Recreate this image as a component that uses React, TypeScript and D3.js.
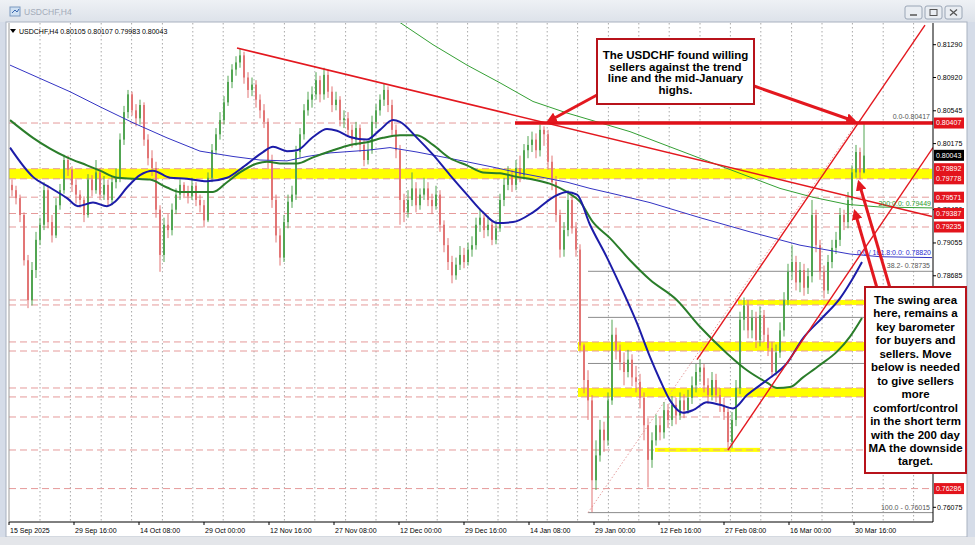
import React from "react";
import * as d3 from "d3";

const W = 975, H = 545;
const PLOT = { l: 9, r: 933, t: 23, b: 522 };

// one candle per 4 H4 bars: [open, high, low, close]
const CANDLES: [number, number, number, number][] = [
  [.7971,.7977,.7958,.7965],[.7965,.7970,.7949,.7956],[.7956,.7960,.7929,.7937],[.7937,.7940,.7880,.7886],[.7886,.7892,.7832,.7841],
  [.7841,.7884,.7835,.7875],[.7875,.7918,.7866,.7909],[.7909,.7934,.7903,.7926],[.7926,.7974,.7920,.7965],[.7965,.7970,.7922,.7929],
  [.7929,.7937,.7906,.7914],[.7914,.7956,.7911,.7948],[.7948,.7972,.7943,.7965],[.7965,.8005,.7961,.7999],[.7999,.8004,.7981,.7988],
  [.7988,.7992,.7963,.7971],[.7971,.7977,.7950,.7960],[.7960,.7965,.7945,.7954],[.7954,.7958,.7929,.7937],[.7937,.7983,.7934,.7977],
  [.7977,.7982,.7958,.7965],[.7965,.7999,.7961,.7985],[.7985,.7990,.7954,.7960],[.7960,.7981,.7954,.7971],[.7971,.7977,.7947,.7954],
  [.7954,.7981,.7948,.7974],[.7974,.7990,.7967,.7979],[.7979,.8029,.7974,.8022],[.8022,.8060,.8016,.8053],[.8053,.8078,.8046,.8073],
  [.8073,.8076,.8049,.8055],[.8055,.8062,.8037,.8046],[.8046,.8067,.8039,.8061],[.8061,.8064,.8015,.8022],[.8022,.8028,.7993,.8001],
  [.8001,.8010,.7981,.7990],[.7990,.7997,.7934,.7943],[.7943,.7948,.7873,.7892],[.7892,.7934,.7884,.7926],[.7926,.7938,.7911,.7920],
  [.7920,.7950,.7914,.7943],[.7943,.7967,.7938,.7960],[.7960,.7977,.7954,.7971],[.7971,.7974,.7956,.7963],[.7963,.7970,.7950,.7958],
  [.7958,.7979,.7954,.7970],[.7970,.7974,.7947,.7954],[.7954,.7960,.7940,.7948],[.7948,.7954,.7923,.7931],[.7931,.7985,.7929,.7979],
  [.7979,.8017,.7974,.8010],[.8010,.8035,.8005,.8028],[.8028,.8053,.8022,.8044],[.8044,.8071,.8039,.8064],[.8064,.8094,.8060,.8087],
  [.8087,.8107,.8080,.8101],[.8101,.8116,.8094,.8109],[.8109,.8125,.8103,.8117],[.8117,.8121,.8085,.8092],[.8092,.8098,.8069,.8078],
  [.8078,.8092,.8071,.8084],[.8084,.8089,.8058,.8067],[.8067,.8073,.8046,.8055],[.8055,.8062,.8035,.8042],[.8042,.8046,.7990,.7999],
  [.7999,.8005,.7945,.7954],[.7954,.7960,.7906,.7914],[.7914,.7922,.7880,.7889],[.7889,.7937,.7884,.7929],[.7929,.7960,.7922,.7952],
  [.7952,.7970,.7945,.7960],[.7960,.8015,.7954,.8008],[.8008,.8035,.8001,.8028],[.8028,.8062,.8022,.8055],[.8055,.8076,.8049,.8067],
  [.8067,.8082,.8058,.8073],[.8073,.8098,.8067,.8089],[.8089,.8094,.8064,.8073],[.8073,.8103,.8067,.8095],[.8095,.8101,.8069,.8076],
  [.8076,.8082,.8053,.8061],[.8061,.8076,.8055,.8067],[.8067,.8071,.8037,.8044],[.8044,.8055,.8035,.8046],[.8046,.8053,.8026,.8033],
  [.8033,.8039,.8013,.8022],[.8022,.8042,.8015,.8035],[.8035,.8039,.8008,.8016],[.8016,.8022,.7992,.7999],[.7999,.8019,.7994,.8010],
  [.8010,.8049,.8006,.8042],[.8042,.8062,.8035,.8055],[.8055,.8073,.8049,.8067],[.8067,.8085,.8060,.8078],[.8078,.8082,.8053,.8061],
  [.8061,.8067,.8026,.8033],[.8033,.8039,.8001,.8010],[.8010,.8016,.7926,.7954],[.7954,.7961,.7929,.7940],[.7940,.7965,.7934,.7954],
  [.7954,.7985,.7947,.7967],[.7967,.7974,.7940,.7948],[.7948,.7967,.7943,.7960],[.7960,.7979,.7954,.7967],[.7967,.7974,.7947,.7954],
  [.7954,.7961,.7938,.7947],[.7947,.7970,.7943,.7960],[.7960,.7965,.7918,.7926],[.7926,.7931,.7895,.7903],[.7903,.7911,.7875,.7884],
  [.7884,.7891,.7860,.7869],[.7869,.7889,.7864,.7881],[.7881,.7902,.7875,.7892],[.7892,.7900,.7877,.7884],[.7884,.7906,.7880,.7898],
  [.7898,.7913,.7890,.7903],[.7903,.7934,.7898,.7926],[.7926,.7943,.7918,.7934],[.7934,.7938,.7911,.7920],[.7920,.7936,.7913,.7926],
  [.7926,.7931,.7903,.7909],[.7909,.7931,.7904,.7922],[.7922,.7961,.7918,.7954],[.7954,.7979,.7947,.7971],[.7971,.7992,.7965,.7982],
  [.7982,.7988,.7963,.7971],[.7971,.7999,.7965,.7990],[.7990,.8004,.7974,.7982],[.7982,.8017,.7977,.8010],[.8010,.8026,.8001,.8016],
  [.8016,.8031,.8008,.8022],[.8022,.8029,.8001,.8010],[.8010,.8039,.8003,.8033],[.8033,.8037,.8015,.8028],[.8028,.8033,.7988,.7997],
  [.7997,.8004,.7965,.7974],[.7974,.7981,.7929,.7937],[.7937,.7943,.7889,.7898],[.7898,.7929,.7890,.7920],[.7920,.7965,.7913,.7954],
  [.7954,.7958,.7916,.7922],[.7922,.7929,.7890,.7898],[.7898,.7904,.7782,.7790],[.7790,.7792,.7736,.7751],[.7751,.7762,.7706,.7728],
  [.7728,.7734,.7602,.7638],[.7638,.7683,.7627,.7666],[.7666,.7706,.7659,.7695],[.7695,.7704,.7670,.7683],[.7683,.7737,.7677,.7728],
  [.7728,.7819,.7723,.7802],[.7802,.7810,.7774,.7785],[.7785,.7791,.7762,.7771],[.7771,.7782,.7745,.7760],[.7760,.7785,.7754,.7774],
  [.7774,.7780,.7744,.7754],[.7754,.7767,.7737,.7749],[.7749,.7758,.7719,.7731],[.7731,.7737,.7683,.7700],[.7700,.7708,.7630,.7661],
  [.7661,.7692,.7652,.7683],[.7683,.7712,.7677,.7700],[.7700,.7710,.7683,.7692],[.7692,.7726,.7685,.7717],[.7717,.7724,.7697,.7706],
  [.7706,.7733,.7699,.7723],[.7723,.7731,.7701,.7711],[.7711,.7737,.7706,.7728],[.7728,.7735,.7708,.7717],[.7717,.7740,.7713,.7731],
  [.7731,.7755,.7724,.7745],[.7745,.7769,.7737,.7760],[.7760,.7774,.7749,.7765],[.7765,.7769,.7737,.7745],[.7745,.7753,.7724,.7734],
  [.7734,.7760,.7728,.7751],[.7751,.7758,.7726,.7734],[.7734,.7742,.7715,.7723],[.7723,.7731,.7706,.7715],[.7715,.7721,.7672,.7681],
  [.7681,.7715,.7674,.7706],[.7706,.7751,.7699,.7742],[.7742,.7828,.7735,.7819],[.7819,.7844,.7807,.7835],[.7835,.7841,.7798,.7807],
  [.7807,.7830,.7798,.7821],[.7821,.7828,.7787,.7796],[.7796,.7834,.7789,.7824],[.7824,.7830,.7794,.7802],[.7802,.7810,.7778,.7787],
  [.7787,.7794,.7754,.7760],[.7760,.7791,.7756,.7782],[.7782,.7816,.7776,.7807],[.7807,.7850,.7800,.7841],[.7841,.7882,.7835,.7873],
  [.7873,.7903,.7864,.7884],[.7884,.7891,.7852,.7861],[.7861,.7884,.7850,.7875],[.7875,.7882,.7846,.7855],[.7855,.7877,.7848,.7868],
  [.7868,.7954,.7861,.7937],[.7937,.7943,.7895,.7903],[.7903,.7909,.7864,.7873],[.7873,.7880,.7843,.7852],[.7852,.7892,.7848,.7884],
  [.7884,.7909,.7877,.7900],[.7900,.7918,.7893,.7909],[.7909,.7945,.7902,.7937],[.7937,.7943,.7920,.7929],[.7929,.7963,.7922,.7954],
  [.7954,.7993,.7947,.7985],[.7985,.8016,.7979,.8008],[.8008,.8013,.7977,.7985],[.7985,.8041,.7984,.8004],
];

// moving averages as [slot index, price]
const MA_H4_FAST: [number, number][] = [
  [-0.5,.8013],[5.25,.7980],[9.5,.7968],[13.75,.7956],[16.5,.7947],[20.25,.7951],[23.75,.7947],[25.75,.7952],[28.75,.7968],
  [32,.7982],[35.25,.7987],[39.5,.7979],[43.75,.7978],[48.75,.7975],[53.75,.7979],[57.75,.7991],[62.75,.8008],[65.25,.8014],
  [68.75,.8009],[71.25,.8010],[75.25,.8025],[78.75,.8034],[81.25,.8032],[84.5,.8025],[88.75,.8022],[92,.8033],[95.25,.8044],
  [97,.8042],[101.25,.8024],[105.25,.8005],[109.5,.7982],[113.75,.7960],[117.75,.7940],[121.25,.7928],[125.25,.7929],
  [130.25,.7940],[135.25,.7957],[138.75,.7963],[141.25,.7960],[144.5,.7926],[148.75,.7889],[152,.7858],[156.25,.7815],
  [159.5,.7777],[162,.7751],[164.5,.7728],[167.75,.7714],[170.25,.7717],[173.75,.7726],[177,.7723],[180.25,.7719],
  [183.75,.7734],[188.75,.7751],[193.75,.7770],[197.75,.7798],[202.75,.7822],[207,.7843],[210,.7864],[212.5,.7884],
];
const MA_H4_SLOW: [number, number][] = [
  [-0.5,.8044],[5.25,.8024],[13.75,.8002],[18.75,.7993],[22,.7987],[26.25,.7979],[30.25,.7978],[34.5,.7977],[38.75,.7968],
  [42,.7963],[47,.7963],[50.25,.7963],[53.75,.7974],[57,.7985],[61.25,.7995],[63.75,.7997],[67.75,.7995],[71.25,.7995],
  [75.25,.8002],[80.25,.8010],[84.5,.8016],[88.75,.8019],[92.75,.8024],[97,.8027],[101.25,.8027],[105.25,.8016],[109.5,.8001],
  [113.75,.7993],[117.75,.7985],[122,.7984],[126.25,.7980],[130.25,.7977],[135.25,.7971],[138.75,.7963],[142,.7952],
  [145.25,.7929],[149.5,.7911],[154.5,.7886],[159.5,.7864],[166.25,.7841],[172,.7811],[178.75,.7781],[183.75,.7762],
  [188.75,.7748],[191.25,.7742],[194.5,.7743],[197.75,.7754],[202,.7768],[206.25,.7783],[209.5,.7800],[212.5,.7821],
];
const MA_D1_FAST: [number, number][] = [
  [-0.5,.8106],[7,.8091],[14.5,.8076],[22,.8059],[30.25,.8041],[38.75,.8024],[47,.8009],[55.25,.8003],[62,.7999],[68.75,.7998],
  [73.75,.8003],[79.5,.8007],[88.75,.8010],[94.5,.8013],[101.25,.8008],[107,.8003],[113.75,.7997],[120.25,.7991],[126.25,.7985],
  [132,.7980],[138.75,.7974],[144.5,.7967],[151.25,.7960],[159.5,.7951],[172,.7934],[184.5,.7918],[197,.7903],[209.5,.7893],
  [217,.7890],[230,.7889],
];
const MA_D1_SLOW: [number, number][] = [
  [97,.8154],[105.25,.8129],[113.75,.8106],[122,.8086],[130.25,.8065],[138.75,.8052],[147,.8041],[154.5,.8031],[172,.8001],
  [192,.7967],[200.25,.7957],[208.75,.7949],[217,.7946],[230,.7945],
];

const PRICE_TICKS = [0.8129, 0.8092, 0.80545, 0.80175, 0.79805, 0.7943, 0.79055, 0.78685, 0.7831, 0.7794, 0.77565, 0.77195, 0.76825, 0.7645, 0.76075];
const TIME_LABELS = ["15 Sep 2025", "29 Sep 16:00", "14 Oct 08:00", "29 Oct 00:00", "12 Nov 16:00", "27 Nov 08:00", "12 Dec 00:00",
  "29 Dec 16:00", "14 Jan 08:00", "29 Jan 00:00", "12 Feb 16:00", "27 Feb 08:00", "16 Mar 00:00", "30 Mar 16:00"];
const TIME_STEP = 16.25; // slots between time labels
const WEEK_GRID = [7, 14.6, 22.3, 29.9, 37.6, 45.2, 52.8, 60.5, 68.1, 75.7, 83.4, 91, 98.6, 106.3, 113.9, 121.5,
  126.2, 133.8, 141.4, 149.1, 156.7, 164.3, 172, 179.6, 187.2, 194.9, 202.5, 210.1, 217.8, 225.4];

const H_LEVELS = [0.80407, 0.79892, 0.79778, 0.79571, 0.79387, 0.79235, 0.78412, 0.78356, 0.77939, 0.77837, 0.7742, 0.77319, 0.77093, 0.76721, 0.76286];
// [from slot, to slot, upper price, lower price]
const BANDS: [number, number, number, number][] = [
  [-1, 230, 0.79892, 0.79778],
  [181.5, 214, 0.78412, 0.78356],
  [141.5, 214, 0.77939, 0.77837],
  [141.5, 214, 0.7742, 0.77319],
  [160.75, 187, 0.76745, 0.767],
];
const PRICE_TAGS: [number, string][] = [
  [0.80407, "#e3141c"], [0.80043, "#000000"], [0.79892, "#e3141c"], [0.79778, "#e3141c"], [0.79571, "#e3141c"],
  [0.79387, "#e3141c"], [0.79235, "#e3141c"], [0.76286, "#e3141c"],
];
const FIB_HIGH = 0.80417, FIB_LOW = 0.76015;
const FIB_FROM = 144, FIB_TOP_SLOT = 211.25;
const FIB_LEVELS = [0, 38.2, 50, 61.8, 100];
const FIB_LABELED = [0, 38.2, 100];

const TREND_DOWN: [number, number][] = [[56.25, 0.81253], [230, 0.79353]];
const CHAN_UP: [number, number][] = [[171.25, 0.7774], [228.25, 0.8151]];
const CHAN_LOW: [number, number][] = [[179, 0.7672], [230.25, 0.8013]];
const RESIST = { price: 0.80407, from: 125.75 };

const NOTE1 = ["The USDCHF found willing", "sellers against the trend", "line and the mid-January", "highs."];
const NOTE2 = ["The swing area", "here, remains a", "key barometer", "for buyers and", "sellers. Move", "below is needed",
  "to give sellers", "more", "comfort/control", "in the short term", "with the 200 day", "MA the downside", "target."];

const FONT = "'Liberation Sans', Arial, sans-serif";
const RED = "#e3181f";
const BOX2 = { x: 865, y: 287, w: 101, h: 186 };

export default function App() {
  const xs = d3.scaleLinear().domain([0, 230]).range([12, 932]);
  const ys = d3.scaleLinear().domain([0.76075, 0.8129]).range([507.3, 44.7]);
  const line = d3.line<[number, number]>().x(d => xs(d[0])).y(d => ys(d[1]));
  const smooth = d3.line<[number, number]>().x(d => xs(d[0])).y(d => ys(d[1])).curve(d3.curveMonotoneX);
  const seg = (p: [number, number][]) => ({ x1: xs(p[0][0]), y1: ys(p[0][1]), x2: xs(p[1][0]), y2: ys(p[1][1]) });
  const fibPrice = (lv: number) => FIB_HIGH - (lv / 100) * (FIB_HIGH - FIB_LOW);

  // axis labels that the tags or the note box cover completely are not shown
  const visibleTicks = PRICE_TICKS.filter(v => {
    const y = ys(v);
    if (y > BOX2.y - 4 && y < BOX2.y + BOX2.h + 4) return false;
    return !PRICE_TAGS.some(([t]) => Math.abs(ys(t) - y) < 3);
  });

  return (
    <div style={{ position: "fixed", left: 0, top: 0 }}>
      <svg width={W} height={H} style={{ display: "block", fontFamily: FONT }}>
        <defs>
          <clipPath id="plot"><rect x={PLOT.l} y={PLOT.t} width={PLOT.r - PLOT.l} height={PLOT.b - PLOT.t} /></clipPath>
          <marker id="ah" viewBox="0 0 10 10" refX="7" refY="5" markerWidth="3.6" markerHeight="3.6" orient="auto">
            <path d="M0,0 L10,5 L0,10 z" fill={RED} />
          </marker>
          <linearGradient id="tb" x1="0" x2="0" y1="0" y2="1">
            <stop offset="0" stopColor="#eef1f5" /><stop offset="1" stopColor="#dde2ea" />
          </linearGradient>
        </defs>

        {/* window frame */}
        <rect x={0} y={0} width={W} height={H} fill="#d5dce8" />
        <rect x={0} y={0} width={W} height={22} fill="url(#tb)" />
        <rect x={10} y={7} width={10} height={9} fill="#cfe0f2" stroke="#7d9ac0" strokeWidth={1} />
        <path d="M12,13 L15,10 L17,12 L19,9" fill="none" stroke="#3a68b0" strokeWidth={1} />
        <text x={24} y={15} fontSize={8.5} fill="#a3abb9">USDCHF,H4</text>
        {[905, 925, 945].map((bx, i) => (
          <g key={bx}>
            <rect x={bx} y={6} width={17} height={13} rx={2} fill="#e9edf2" stroke="#9aa6b6" />
            {i === 0 && <line x1={bx + 5} x2={bx + 12} y1={15} y2={15} stroke="#555" strokeWidth={1.5} />}
            {i === 1 && <rect x={bx + 5} y={9.5} width={7} height={6} fill="none" stroke="#555" />}
            {i === 2 && <path d={`M${bx + 5},9.5 L${bx + 12},15.5 M${bx + 12},9.5 L${bx + 5},15.5`} stroke="#555" strokeWidth={1.3} />}
          </g>
        ))}
        <rect x={6} y={22} width={961} height={515} fill="#ffffff" stroke="#a9b2c0" />
        <rect x={0} y={537} width={W} height={8} fill="#e4e6ea" />

        {/* grid */}
        {WEEK_GRID.map(g => (
          <line key={g} x1={xs(g)} x2={xs(g)} y1={PLOT.t} y2={PLOT.b} stroke="#a8a8a8" strokeDasharray="1.5,2.5" />
        ))}

        <g clipPath="url(#plot)">
          {BANDS.map((b, i) => (
            <rect key={i} x={xs(b[0])} width={xs(b[1]) - xs(b[0])} y={ys(b[2])} height={ys(b[3]) - ys(b[2])} fill="#ffff00" />
          ))}
          {H_LEVELS.map(v => (
            <line key={v} x1={PLOT.l} x2={PLOT.r} y1={ys(v)} y2={ys(v)} stroke="#e59a9a" strokeDasharray="7,4" />
          ))}
          {FIB_LEVELS.map(lv => (
            <line key={lv} x1={xs(FIB_FROM)} x2={PLOT.r} y1={ys(fibPrice(lv))} y2={ys(fibPrice(lv))} stroke="#8c8c8c" />
          ))}
          <line x1={xs(FIB_FROM)} y1={ys(FIB_LOW)} x2={xs(FIB_TOP_SLOT)} y2={ys(FIB_HIGH)} stroke="#e7a0a0" strokeDasharray="1.5,2" />

          {CANDLES.map((c, i) => {
            const [o, h, l, cl] = c;
            const col = cl >= o ? "#52a552" : "#e27575";
            const cx = xs(i);
            const top = ys(Math.max(o, cl));
            return (
              <g key={i}>
                <line x1={cx} x2={cx} y1={ys(h)} y2={ys(l)} stroke={col} />
                <rect x={cx - 1} y={top} width={2} height={Math.max(1, Math.abs(ys(o) - ys(cl)))} fill={col} />
              </g>
            );
          })}

          <path d={line(MA_D1_FAST) ?? ""} fill="none" stroke="#3434c4" strokeWidth={1} />
          <path d={line(MA_D1_SLOW) ?? ""} fill="none" stroke="#35a035" strokeWidth={1} />
          <path d={smooth(MA_H4_SLOW) ?? ""} fill="none" stroke="#2a7d2a" strokeWidth={2} />
          <path d={smooth(MA_H4_FAST) ?? ""} fill="none" stroke="#1c1ca8" strokeWidth={2} />

          <line {...seg(TREND_DOWN)} stroke={RED} strokeWidth={1.6} />
          <line {...seg(CHAN_UP)} stroke={RED} strokeWidth={1.4} />
          <line {...seg(CHAN_LOW)} stroke={RED} strokeWidth={1.4} />
          <line x1={xs(RESIST.from)} x2={PLOT.r} y1={ys(RESIST.price)} y2={ys(RESIST.price)} stroke="#e01018" strokeWidth={3.5} />

          {FIB_LABELED.map(lv => (
            <text key={lv} x={930} y={ys(fibPrice(lv)) - 3} fontSize={7} fill="#555" textAnchor="end">
              {`${lv.toFixed(1)}${lv === 0 ? "-" : lv === 100 ? " - " : "- "}${fibPrice(lv).toFixed(5)}`}
            </text>
          ))}
          <text x={931} y={ys(0.79449) - 2} fontSize={7} fill="#2e9a2e" textAnchor="end">200:0.0: 0.79449</text>
          <text x={931} y={ys(0.7889) - 3} fontSize={7} fill="#2a2ad0" textAnchor="end">0.0 / 161.8:0.0: 0.78820</text>
        </g>

        {/* header */}
        <path d="M10,29 L16,29 L13,33 z" fill="#000" />
        <text x={19} y={34} fontSize={7} fill="#000">USDCHF,H4  0.80105 0.80107 0.79983 0.80043</text>

        {/* axes */}
        <line x1={PLOT.r} x2={PLOT.r} y1={PLOT.t} y2={PLOT.b} stroke="#000" />
        <line x1={PLOT.l} x2={PLOT.r} y1={PLOT.b} y2={PLOT.b} stroke="#000" />
        <line x1={PLOT.l} x2={PLOT.l} y1={PLOT.t} y2={PLOT.b} stroke="#9a9a9a" />
        {visibleTicks.map(v => (
          <g key={v}>
            <line x1={PLOT.r} x2={PLOT.r + 3} y1={ys(v)} y2={ys(v)} stroke="#000" />
            <text x={937} y={ys(v)} dy="0.35em" fontSize={7} fill="#000">{v.toFixed(5)}</text>
          </g>
        ))}
        {PRICE_TAGS.map(([v, col]) => (
          <g key={v}>
            <rect x={934} y={ys(v) - 5.5} width={30} height={11} fill={col} />
            <text x={936} y={ys(v)} dy="0.35em" fontSize={7} fill="#fff">{v.toFixed(5)}</text>
          </g>
        ))}
        {TIME_LABELS.map((t, k) => {
          const x = xs(k * TIME_STEP - 0.75);
          return (
            <g key={t}>
              <line x1={x} x2={x} y1={PLOT.b} y2={PLOT.b + 3} stroke="#000" />
              <text x={x + 1} y={533} fontSize={7} fill="#000">{t}</text>
            </g>
          );
        })}

        {/* annotations */}
        <line x1={597} y1={95} x2={xs(133.25) + 4} y2={ys(0.80407) - 2} stroke={RED} strokeWidth={3} markerEnd="url(#ah)" />
        <line x1={754} y1={86} x2={xs(211.5) - 4} y2={ys(0.80407) - 2} stroke={RED} strokeWidth={3} markerEnd="url(#ah)" />
        <line x1={890} y1={288} x2={xs(211.75)} y2={ys(0.79778) + 4} stroke={RED} strokeWidth={3} markerEnd="url(#ah)" />
        <line x1={877} y1={288} x2={xs(210.75)} y2={ys(0.79449) + 4} stroke={RED} strokeWidth={3} markerEnd="url(#ah)" />

        <rect x={597} y={39} width={157} height={65} fill="#fff" stroke="#b8131b" strokeWidth={2} />
        {NOTE1.map((t, i) => (
          <text key={t} x={675.5} y={59 + i * 11.7} fontSize={11.5} fontWeight="bold" textAnchor="middle" fill="#000">{t}</text>
        ))}
        <rect x={BOX2.x} y={BOX2.y} width={BOX2.w} height={BOX2.h} fill="#fff" stroke="#b8131b" strokeWidth={2} />
        {NOTE2.map((t, i) => (
          <text key={t} x={BOX2.x + BOX2.w / 2} y={BOX2.y + 17 + i * 13.45} fontSize={11.5} fontWeight="bold" textAnchor="middle" fill="#000">{t}</text>
        ))}
      </svg>
    </div>
  );
}
